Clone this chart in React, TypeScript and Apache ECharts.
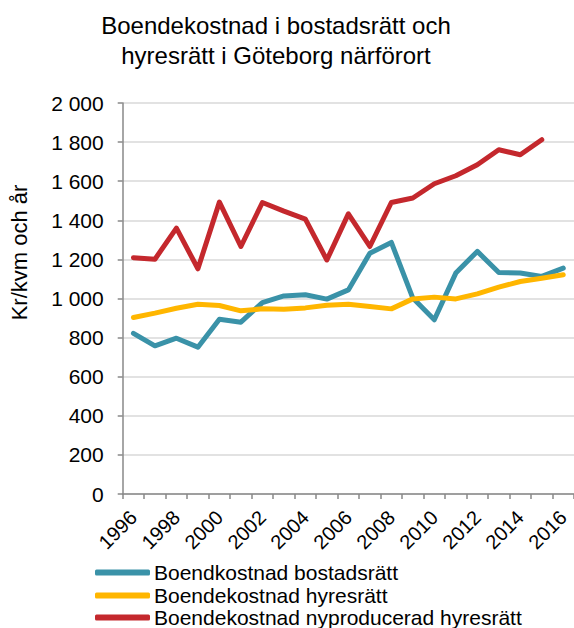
import React, { useEffect, useRef } from "react";
import * as echarts from "echarts";

const years = ["1996","1997","1998","1999","2000","2001","2002","2003","2004","2005","2006","2007","2008","2009","2010","2011","2012","2013","2014","2015","2016"];
const bostadsratt = [822,758,797,751,894,879,979,1013,1019,997,1044,1232,1287,1002,891,1130,1241,1133,1130,1113,1155];
const hyresratt = [903,925,950,971,964,937,947,945,952,965,971,959,947,998,1007,998,1024,1058,1087,1104,1121];
const nyproducerad = [1209,1201,1360,1152,1493,1266,1491,1447,1406,1197,1433,1266,1491,1514,1587,1628,1684,1761,1735,1812,null];
const seriesNames = ["Boendkostnad bostadsrätt","Boendekostnad hyresrätt","Boendekostnad nyproducerad hyresrätt"];
const colors = ["#3A92A8","#FFB600","#C4282D"];

const FONT = "Liberation Sans, Arial, sans-serif";

function fmt(v: number): string {
  if (v >= 1000) return Math.floor(v / 1000) + " " + String(v % 1000).padStart(3, "0");
  return String(v);
}

const legendTops = [562, 585, 607];

export default function App() {
  const ref = useRef<HTMLDivElement>(null);
  useEffect(() => {
    if (!ref.current) return;
    const chart = echarts.init(ref.current, null, { renderer: "svg" });
    const data = [bostadsratt, hyresratt, nyproducerad];
    chart.setOption({
      animation: false,
      backgroundColor: "#ffffff",
      textStyle: { fontFamily: FONT },
      title: {
        text: "Boendekostnad i bostadsrätt och\nhyresrätt i Göteborg närförort",
        left: 271,
        top: 5,
        textAlign: "center",
        textStyle: { fontFamily: FONT, fontSize: 24, fontWeight: "normal", color: "#000", lineHeight: 30 },
      },
      legend: seriesNames.map((n, i) => ({
        orient: "vertical",
        left: 95,
        top: legendTops[i],
        padding: 0,
        itemWidth: 55,
        itemHeight: 6,
        icon: "roundRect",
        textStyle: { fontFamily: FONT, fontSize: 21, color: "#000", padding: [0, 0, 0, -1] },
        data: [n],
      })),
      grid: { left: 122.7, right: -3.7, top: 103, bottom: 134, containLabel: false },
      xAxis: {
        type: "category",
        data: years,
        boundaryGap: true,
        axisLine: { lineStyle: { color: "#898989", width: 1.5 } },
        axisTick: { show: true, interval: 0, length: 5, lineStyle: { color: "#898989", width: 1.5 } },
        axisLabel: { interval: 1, rotate: 45, fontSize: 20, color: "#000", fontFamily: FONT, margin: 20 },
      },
      yAxis: {
        type: "value",
        min: 0,
        max: 2000,
        interval: 200,
        name: "Kr/kvm och år",
        nameLocation: "middle",
        nameGap: 92,
        nameTextStyle: { fontFamily: FONT, fontSize: 22, color: "#000", padding: [0, 0, 0, 92] },
        axisLine: { show: true, lineStyle: { color: "#898989", width: 1.5 } },
        axisTick: { show: true, length: 5, lineStyle: { color: "#898989", width: 1.5 } },
        axisLabel: { fontSize: 21, color: "#000", fontFamily: FONT, margin: 19, formatter: fmt },
        splitLine: { lineStyle: { color: "#D9D9D9", width: 1.5 } },
      },
      series: data.map((d, i) => ({
        name: seriesNames[i],
        type: "line",
        data: d,
        symbol: "none",
        color: colors[i],
        lineStyle: { width: 5, color: colors[i], cap: "round", join: "round" },
        itemStyle: { color: colors[i] },
      })),
    });
    return () => chart.dispose();
  }, []);
  return <div ref={ref} style={{ position: "fixed", left: 0, top: 0, width: 574, height: 628 }} />;
}
